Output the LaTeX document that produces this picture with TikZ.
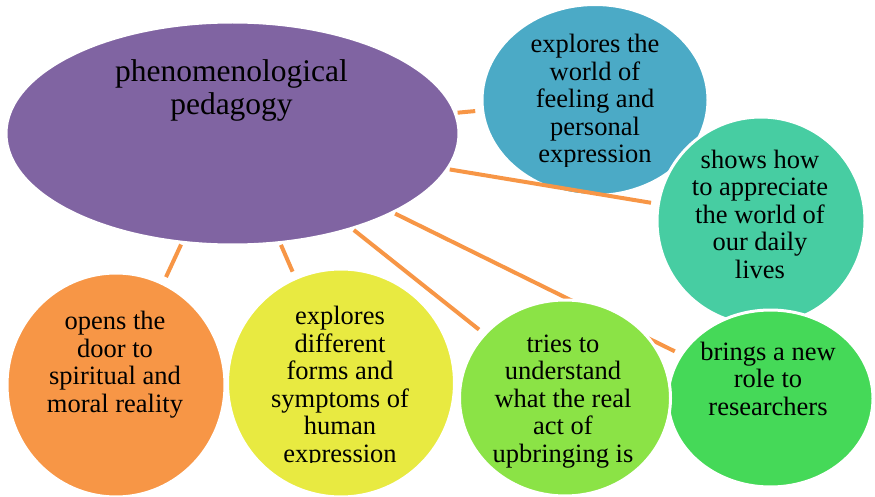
\documentclass[tikz,border=0pt]{standalone}
\usepackage{fontspec}
\setmainfont{Liberation Serif}
\usetikzlibrary{shapes.geometric}

\definecolor{cPurple}{RGB}{128,100,162}
\definecolor{cBlue}{RGB}{75,170,198}
\definecolor{cTeal}{RGB}{71,205,162}
\definecolor{cGreen}{RGB}{69,217,88}
\definecolor{cLime}{RGB}{139,227,70}
\definecolor{cYellow}{RGB}{232,234,65}
\definecolor{cOrange}{RGB}{247,150,70}

\pgfdeclarelayer{base}
\pgfdeclarelayer{lines}
\pgfdeclarelayer{labels}
\pgfsetlayers{base,lines,main,labels}

% a multi-line node's base anchor is the baseline of its last line
\tikzset{
  bubble/.style={ellipse, inner sep=0pt, draw=white, line width=3pt, fill=#1},
  link/.style={draw=cOrange, line width=4pt, shorten <=1pt, shorten >=6pt},
  small/.style={align=center, inner sep=0pt, anchor=base,
    font=\fontsize{26.5}{27.5}\selectfont},
  big/.style={align=center, inner sep=0pt, anchor=base,
    font=\fontsize{31.5}{33}\selectfont},
}

\begin{document}
\begin{tikzpicture}[x=1pt, y=-1pt]
\useasboundingbox (0,0) rectangle (875,497);

% central topic and the first satellite sit underneath the connectors
\begin{pgfonlayer}{base}
\node[bubble=cPurple, minimum width=453pt, minimum height=223pt] (hub) at (232.5,133.5) {};
\node[bubble=cBlue, minimum width=226pt, minimum height=191pt] (feel) at (595,100) {};
\end{pgfonlayer}

% the other satellites, later ones overlapping earlier ones
\node[bubble=cTeal, minimum width=208pt, minimum height=208pt] (daily) at (761,221) {};
\node[bubble=cGreen, minimum width=205pt, minimum height=177pt] (role) at (770.5,398.5) {};
\node[bubble=cLime, minimum width=211pt, minimum height=196pt] (act) at (565,398) {};
\node[bubble=cYellow, minimum width=227pt, minimum height=228pt] (forms) at (341,383) {};
\node[bubble=cOrange, minimum width=218pt, minimum height=224pt] (door) at (116,385) {};

% connectors from the hub
\begin{pgfonlayer}{lines}
\draw[link] (hub) -- (feel);
\draw[link] (hub) -- (daily);
\draw[link] (hub) -- (role);
\draw[link] (hub) -- (act);
\draw[link] (hub) -- (forms);
\draw[link] (hub) -- (door);
\end{pgfonlayer}

% texts
\begin{pgfonlayer}{labels}
\node[big] (tHub) at (231.5,115) {phenomenological\\pedagogy};
\begin{scope}
  \clip (480,0) rectangle (710,167);
  \node[small] (tFeel) at (595,163) {explores the\\world of\\feeling and\\personal\\expression};
\end{scope}
\node[small] (tDaily) at (760,278) {shows how\\to appreciate\\the world of\\our daily\\lives};
\node[small] (tRole) at (768,415) {brings a new\\role to\\researchers};
\node[small] (tAct) at (563,462) {tries to\\understand\\what the real\\act of\\upbringing is};
\begin{scope}
  \clip (228,260) rectangle (456,462);
  \node[small] (tForms) at (340,462) {explores\\different\\forms and\\symptoms of\\human\\expression};
\end{scope}
\node[small] (tDoor) at (115,412) {opens the\\door to\\spiritual and\\moral reality};
\end{pgfonlayer}
\end{tikzpicture}
\end{document}
